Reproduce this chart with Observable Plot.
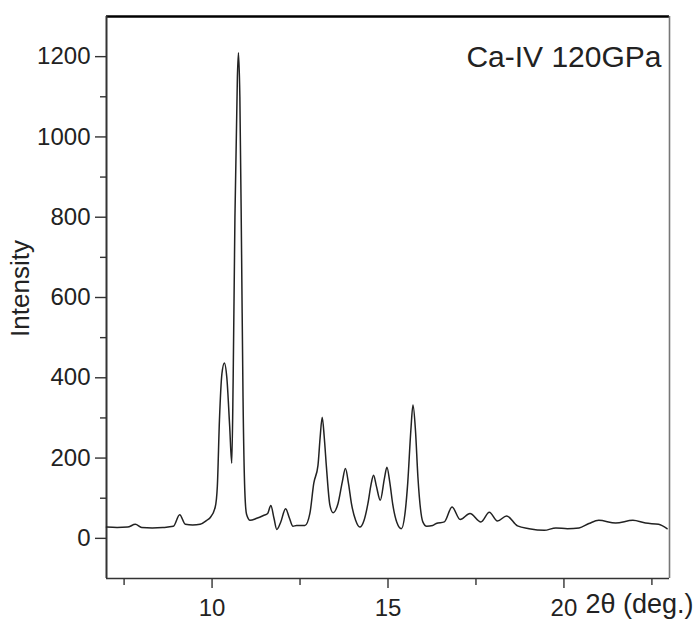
<!DOCTYPE html>
<html>
<head>
<meta charset="utf-8">
<script src="https://cdn.jsdelivr.net/npm/d3@7"></script>
<script src="https://cdn.jsdelivr.net/npm/@observablehq/plot@0.6"></script>
<style>
  html, body { margin: 0; padding: 0; background: #fff; }
</style>
</head>
<body>
<div id="chart"></div>
<script>
const twoTheta = [
  7.0, 7.3, 7.6, 7.82, 8.0, 8.3, 8.6, 8.9, 9.08, 9.24, 9.45, 9.66, 9.85, 9.95,
  10.09, 10.15, 10.21, 10.28, 10.35, 10.42, 10.50, 10.56, 10.60, 10.65, 10.72, 10.75,
  10.79, 10.84, 10.88, 10.93, 10.98, 11.08, 11.27, 11.46, 11.58, 11.67, 11.76, 11.84,
  11.95, 12.09, 12.2, 12.3, 12.40, 12.64, 12.78, 12.89, 13.01, 13.07, 13.13, 13.19, 13.25, 13.35,
  13.44, 13.58, 13.70, 13.79, 13.88, 13.96, 14.08, 14.2, 14.32, 14.43, 14.52, 14.59, 14.67, 14.78,
  14.90, 14.97, 15.05, 15.14,
  15.25, 15.38, 15.48, 15.56, 15.65, 15.71, 15.78, 15.85, 15.99, 16.1, 16.27, 16.37, 16.6, 16.82,
  17.05, 17.33, 17.64, 17.88, 18.11, 18.37, 18.68, 19.01, 19.44, 19.77, 20.1, 20.43,
  20.71, 20.99, 21.47, 21.96, 22.32, 22.69, 22.93
];
const intensity = [
  28, 27, 28, 35, 27, 26, 27, 30, 59, 35, 33, 35, 45, 52,
  78, 130, 295, 410, 437, 400, 280, 187, 400, 800, 1150, 1210,
  1100, 700, 350, 120, 60, 45, 50, 57, 62, 82, 50, 22,
  40, 74, 50, 30, 32, 32, 62, 137, 182, 250, 302, 250, 178, 82,
  64, 87, 140, 174, 135, 87, 45, 28, 45, 87, 135, 157, 130, 95,
  150, 177, 140, 82,
  40, 24, 60, 137, 270, 332, 270, 153, 41, 30, 32, 37, 41, 78,
  47, 62, 41, 65, 43, 56, 31, 24, 20, 26, 24, 26,
  37, 45, 38, 45, 38, 35, 24
];

const xDomain = [7, 23];
const yDomain = [-100, 1300];
const xMajorTicks = [10, 15, 20];
const xMinorTicks = [7.5, 12.5, 17.5, 22.5];
const yMajorTicks = [0, 200, 400, 600, 800, 1000, 1200];
const yMinorTicks = [100, 300, 500, 700, 900, 1100];
const titleText = ["Ca-IV 120GPa"];
const yLabel = ["Intensity"];
const xLabel = ["2θ (deg.)"];

const data = twoTheta.map((t, i) => ({t, v: intensity[i]}));
const blank = () => "";
const plain = d => String(d);

const chart = Plot.plot({
  width: 700,
  height: 621,
  marginLeft: 106,
  marginRight: 31,
  marginTop: 16,
  marginBottom: 43,
  x: {domain: xDomain},
  y: {domain: yDomain},
  style: {
    fontFamily: "'Liberation Sans', Arial, Helvetica, sans-serif",
    color: "#222",
    background: "#fff"
  },
  marks: [
    Plot.axisY(yMajorTicks, {tickSize: 11, tickPadding: 5, fontSize: 24, tickFormat: plain, label: null, strokeWidth: 1.4, stroke: "#333"}),
    Plot.axisY(yMinorTicks, {tickSize: 6, tickFormat: blank, label: null, strokeWidth: 1.4, stroke: "#333"}),
    Plot.axisX(xMajorTicks, {tickSize: 10, tickPadding: 10, fontSize: 24, tickFormat: plain, label: null, strokeWidth: 1.4, stroke: "#333"}),
    Plot.axisX(xMinorTicks, {tickSize: 7, tickFormat: blank, label: null, strokeWidth: 1.4, stroke: "#333"}),
    Plot.ruleY([yDomain[1]], {stroke: "#000", strokeWidth: 2.5}),
    Plot.ruleX([xDomain[0]], {stroke: "#333", strokeWidth: 2}),
    Plot.ruleY([yDomain[0]], {stroke: "#333", strokeWidth: 1.6}),
    Plot.ruleX([xDomain[1]], {stroke: "#777", strokeWidth: 1.6}),
    Plot.line(data, {x: "t", y: "v", curve: "monotone-x", stroke: "#222", strokeWidth: 1.5}),
    Plot.text(titleText, {text: d => d, frameAnchor: "top-right", textAnchor: "end", lineAnchor: "top", dx: -8, dy: 29, fontSize: 30, fill: "#222"}),
    Plot.text(yLabel, {text: d => d, frameAnchor: "left", rotate: -90, textAnchor: "middle", lineAnchor: "middle", dx: -86, dy: -9, fontSize: 26, fill: "#222"}),
    Plot.text(xLabel, {text: d => d, frameAnchor: "bottom-right", textAnchor: "start", lineAnchor: "middle", dx: -84, dy: 26, fontSize: 27, fill: "#222"})
  ]
});

document.getElementById("chart").appendChild(chart);
</script>
</body>
</html>
